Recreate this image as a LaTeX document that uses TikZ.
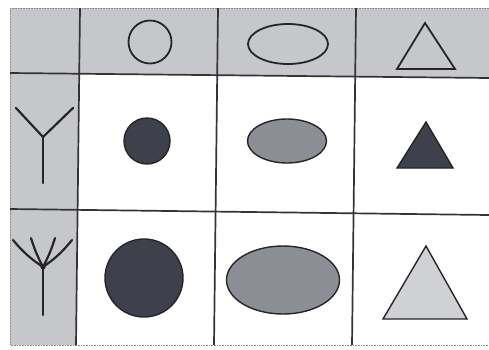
\documentclass[tikz,border=0pt]{standalone}
\begin{document}
\begin{tikzpicture}[x=1pt,y=-1pt,
  grid/.style={draw=black!80,line width=1.7pt},
  shapeline/.style={draw=black!85,line width=1.8pt},
  symb/.style={draw=black!85,line width=2.2pt,line cap=round,line join=round}]
\definecolor{bandgray}{RGB}{198,199,203}
\definecolor{darkfill}{RGB}{62,64,76}
\definecolor{midfill}{RGB}{140,142,150}
\definecolor{lightfill}{RGB}{208,209,213}
\useasboundingbox (0,0) rectangle (489,349);
\fill[white] (0,0) rectangle (489,349);
% gray header band and left column
\fill[bandgray] (10,8) -- (489,8) -- (489,78) -- (79,74) -- (76,345) -- (10,345) -- cycle;
% outer border
\draw[black!45,line width=0.6pt,densely dotted] (10,8) -- (489,8);
\draw[black!45,line width=0.6pt,densely dotted] (10,8) -- (10,345) -- (489,345);
% grid lines
\draw[grid] (10,73) -- (489,78);
\draw[grid] (10,209) -- (489,215);
\draw[grid] (80,8) -- (76,345);
\draw[grid] (218,8) -- (214,345);
\draw[grid] (356,8) -- (352,345);
% header shapes
\draw[shapeline] (150,42) circle (21.5);
\draw[shapeline] (288,44) ellipse (40 and 20);
\draw[shapeline,line join=miter] (425,23) -- (455,69) -- (397,69) -- cycle;
% row symbols
\draw[symb] (16,108) -- (43,137) -- (73,108);
\draw[symb] (43,137) -- (43,183);
\draw[symb] (43,267) -- (43,315);
\draw[symb] (43,267) to[bend left=8] (13,240);
\draw[symb] (43,267) to[bend left=5] (31,238);
\draw[symb] (43,267) to[bend right=5] (55,238);
\draw[symb] (43,267) to[bend right=8] (72,240);
\fill[black!85] (43,267) circle (2.6);
% row 1 shapes
\filldraw[shapeline,line width=1.4pt,fill=darkfill] (147,141) circle (23);
\filldraw[shapeline,line width=1.4pt,fill=midfill] (287,141) ellipse (39.5 and 22);
\filldraw[shapeline,line width=1.4pt,fill=darkfill] (426,122) -- (453,168) -- (397,168) -- cycle;
% row 2 shapes
\filldraw[shapeline,line width=1.4pt,fill=darkfill] (144,278) circle (39);
\filldraw[shapeline,line width=1.4pt,fill=midfill] (283,280) ellipse (56.5 and 34);
\filldraw[shapeline,line width=1.4pt,fill=lightfill] (426,246) -- (467,319) -- (383,319) -- cycle;
\end{tikzpicture}
\end{document}
